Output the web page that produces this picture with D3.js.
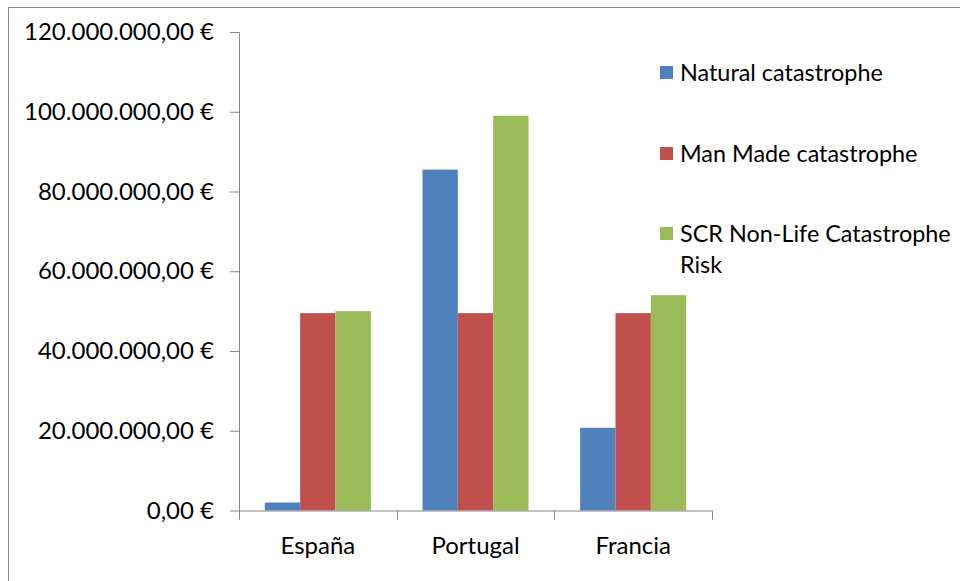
<!DOCTYPE html>
<html>
<head>
<meta charset="utf-8">
<script src="https://cdn.jsdelivr.net/npm/d3@7/dist/d3.min.js"></script>
<style>
  html, body { margin: 0; padding: 0; background: #fff; }
  svg { display: block; }
  text { font-family: Lato, "Open Sans", sans-serif; fill: #000; }
</style>
</head>
<body>
<svg id="chart" width="960" height="581"></svg>
<script>
// Countries on the x axis
const categories = ["España", "Portugal", "Francia"];
// Series names in legend order
const seriesNames = ["Natural catastrophe", "Man Made catastrophe", "SCR Non-Life Catastrophe Risk"];
// Values in euros, one array per series (España, Portugal, Francia)
const naturalCat = [2000000, 85500000, 20750000];
const manMadeCat = [49500000, 49500000, 49500000];
const scrNonLife = [50000000, 99000000, 54000000];
// Y axis ticks
const yTicks = [0, 20000000, 40000000, 60000000, 80000000, 100000000, 120000000];
const seriesColors = ["#4f81bd", "#c0504d", "#9bbb59"];

const series = [naturalCat, manMadeCat, scrNonLife];
const FS = 24;
const LEGEND_FS = 23.4;

const svg = d3.select("#chart");

// outer chart frame (only top and left edges fall inside the window)
svg.append("rect")
  .attr("x", 8.5).attr("y", 7.5)
  .attr("width", 1000).attr("height", 700)
  .attr("fill", "none").attr("stroke", "#888").attr("stroke-width", 1);

const plot = { left: 239, right: 712, top: 32, bottom: 510.5 };

const x = d3.scaleBand().domain(categories).range([plot.left, plot.right]).paddingInner(0).paddingOuter(0);
const x1 = d3.scaleBand().domain(d3.range(series.length))
  .range([0, x.bandwidth()]).paddingOuter(0.73).paddingInner(0);
const y = d3.scaleLinear().domain([0, 120000000]).range([plot.bottom, plot.top]);

const fmtNum = d3.formatLocale({ decimal: ",", thousands: ".", grouping: [3], currency: ["", " €"] }).format(",.2f");

// bars
const groups = svg.append("g").selectAll("g")
  .data(categories)
  .join("g")
  .attr("transform", d => `translate(${x(d)},0)`);

groups.selectAll("rect")
  .data((c, ci) => series.map((s, si) => ({ si, v: s[ci] })))
  .join("rect")
  .attr("x", d => x1(d.si))
  .attr("width", x1.bandwidth())
  .attr("y", d => y(d.v))
  .attr("height", d => y(0) - y(d.v))
  .attr("fill", d => seriesColors[d.si]);

// y axis
const yAxis = d3.axisLeft(y).tickValues(yTicks).tickSize(9).tickSizeOuter(0)
  .tickPadding(16).tickFormat(d => fmtNum(d) + " €");
const gy = svg.append("g").attr("transform", `translate(${plot.left},0)`).call(yAxis);
gy.select(".domain").attr("stroke", "#868686");
gy.selectAll(".tick line").attr("stroke", "#868686");
gy.selectAll(".tick text").attr("font-size", FS).attr("fill", "#000")
  .style("font-family", "Lato, 'Open Sans', sans-serif");

// x axis
const xAxis = d3.axisBottom(x).tickSize(0).tickPadding(0);
const gx = svg.append("g").attr("transform", `translate(0,${plot.bottom})`).call(xAxis);
gx.select(".domain").attr("stroke", "#868686");
gx.selectAll(".tick text").attr("font-size", FS).attr("y", 43).attr("dy", 0).attr("fill", "#000")
  .style("font-family", "Lato, 'Open Sans', sans-serif");
// category separator ticks
const sepPos = categories.map(c => x(c)).concat([x(categories[categories.length - 1]) + x.bandwidth()]);
svg.append("g").selectAll("line").data(sepPos).join("line")
  .attr("x1", d => Math.round(d) + 0.5).attr("x2", d => Math.round(d) + 0.5)
  .attr("y1", plot.bottom).attr("y2", plot.bottom + 9)
  .attr("stroke", "#868686");

// legend
const legendY = [73, 154, 234];
const legend = svg.append("g").selectAll("g").data(seriesNames).join("g")
  .attr("transform", (d, i) => `translate(660,${legendY[i]})`);
legend.append("rect").attr("x", 0).attr("y", -7).attr("width", 13).attr("height", 13)
  .attr("fill", (d, i) => seriesColors[i]);
legend.append("text").attr("x", 20).attr("y", 8).attr("font-size", LEGEND_FS)
  .each(function (d) {
    const t = d3.select(this);
    const lines = d === "SCR Non-Life Catastrophe Risk" ? ["SCR Non-Life Catastrophe", "Risk"] : [d];
    lines.forEach((ln, k) => t.append("tspan").attr("x", 20).attr("dy", k === 0 ? 0 : 31).text(ln));
  });
</script>
</body>
</html>
